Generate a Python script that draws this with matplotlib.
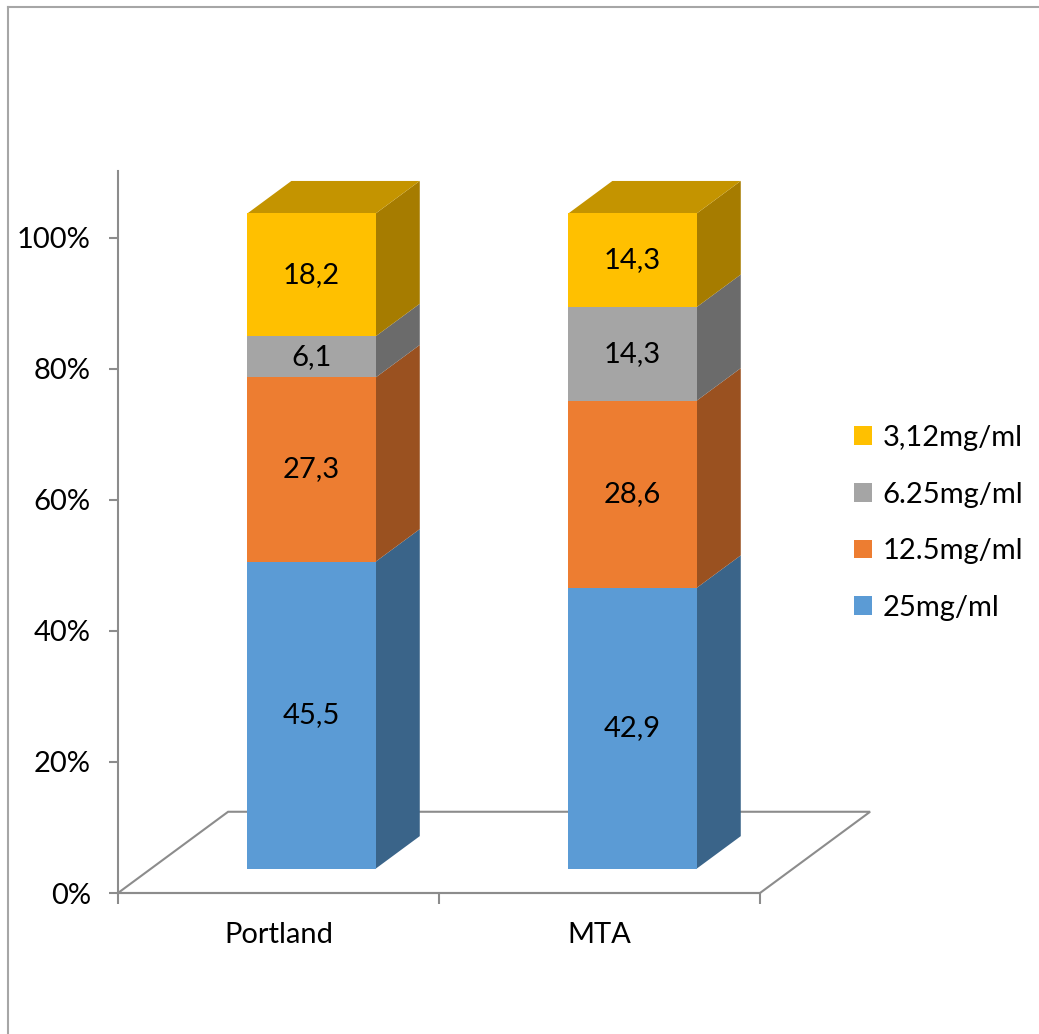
import numpy as np
import matplotlib
matplotlib.use('Agg')
import matplotlib.pyplot as plt
from matplotlib.patches import Polygon, Rectangle, Patch
from matplotlib.lines import Line2D

plt.rcParams['font.family'] = ['Lato', 'DejaVu Sans']

categories = ['Portland', 'MTA']
series = ['25mg/ml', '12.5mg/ml', '6.25mg/ml', '3,12mg/ml']
v25 = [45.5, 42.9]
v12 = [27.3, 28.6]
v6 = [6.1, 14.3]
v3 = [18.2, 14.3]
yticks = [0, 20, 40, 60, 80, 100]

front = ['#5B9BD5', '#ED7D31', '#A5A5A5', '#FFC000']
side = ['#3A6489', '#9A5120', '#6B6B6B', '#A67C00']
top = ['#4677A4', '#B66025', '#7F7F7F', '#C49400']
grid_c = '#8C8C8C'
fs = 21

W, H = 1039, 1034
fig = plt.figure(figsize=(W / 100, H / 100), dpi=100)
ax = fig.add_axes([118 / W, 1 - 893 / H, 642 / W, 722 / H])
ax.set_xlim(-0.5, 1.5)
ax.set_ylim(0, 110.2)

# floor depth vector (data units) and bar placement inside that depth
ddx, ddy = 0.343, 12.4
f0, f1 = 0.3, 0.7
bw = 0.40
bdx, bdy = (f1 - f0) * ddx, (f1 - f0) * ddy

floor = Polygon([(-0.5, 0), (1.5, 0), (1.5 + ddx, ddy), (-0.5 + ddx, ddy)],
                closed=True, fill=False, edgecolor=grid_c, lw=1.5,
                clip_on=False, zorder=1)
ax.add_patch(floor)

vals = np.array([v25, v12, v6, v3])
pct = vals / vals.sum(axis=0) * 100

for i, cat in enumerate(categories):
    xl = i - bw / 2 + f0 * ddx
    xr = xl + bw
    cum = f0 * ddy
    for k in range(len(series)):
        y0 = cum
        y1 = cum + pct[k, i]
        ax.add_patch(Rectangle((xl, y0), bw, y1 - y0, facecolor=front[k],
                               edgecolor='none', clip_on=False, zorder=3))
        ax.add_patch(Polygon([(xr, y0), (xr + bdx, y0 + bdy),
                              (xr + bdx, y1 + bdy), (xr, y1)],
                             facecolor=side[k], edgecolor='none',
                             clip_on=False, zorder=2))
        if k == len(series) - 1:
            ax.add_patch(Polygon([(xl, y1), (xr, y1), (xr + bdx, y1 + bdy),
                                  (xl + bdx, y1 + bdy)],
                                 facecolor=top[k], edgecolor='none',
                                 clip_on=False, zorder=2))
        lab = f"{vals[k, i]:.1f}".replace('.', ',')
        ax.text((xl + xr) / 2, (y0 + y1) / 2, lab, ha='center', va='center',
                fontsize=fs, zorder=4)
        cum = y1

# axes
for s in ['top', 'right']:
    ax.spines[s].set_visible(False)
for s in ['left', 'bottom']:
    ax.spines[s].set_color(grid_c)
    ax.spines[s].set_linewidth(1.5)
ax.set_yticks(yticks)
ax.set_yticklabels([f"{t}%" for t in yticks])
ax.tick_params(axis='y', direction='out', length=6.5, width=1.5,
               color=grid_c, labelsize=fs, pad=13)
ax.set_xticks(range(len(categories)))
ax.set_xticklabels(categories)
ax.tick_params(axis='x', which='major', length=0, labelsize=fs, pad=21)
ax.set_xticks([-0.5, 0.5, 1.5], minor=True)
ax.tick_params(axis='x', which='minor', direction='out', length=8,
               width=1.5, color=grid_c)

handles = [Patch(facecolor=front[k], edgecolor='none') for k in range(len(series))][::-1]
fig.legend(handles, series[::-1], loc='center left',
           bbox_to_anchor=(828 / W, 1 - 523 / H), frameon=False,
           fontsize=fs, handlelength=0.62, handleheight=0.62,
           handletextpad=0.35, labelspacing=1.05)

# chart-area border (top and left edges only are visible)
fig.add_artist(Line2D([8 / W, 1], [1 - 7 / H] * 2, transform=fig.transFigure,
                      color='#A6A6A6', lw=1.5))
fig.add_artist(Line2D([8 / W] * 2, [0, 1 - 7 / H], transform=fig.transFigure,
                      color='#A6A6A6', lw=1.5))

fig.savefig('out.png', dpi=100)
